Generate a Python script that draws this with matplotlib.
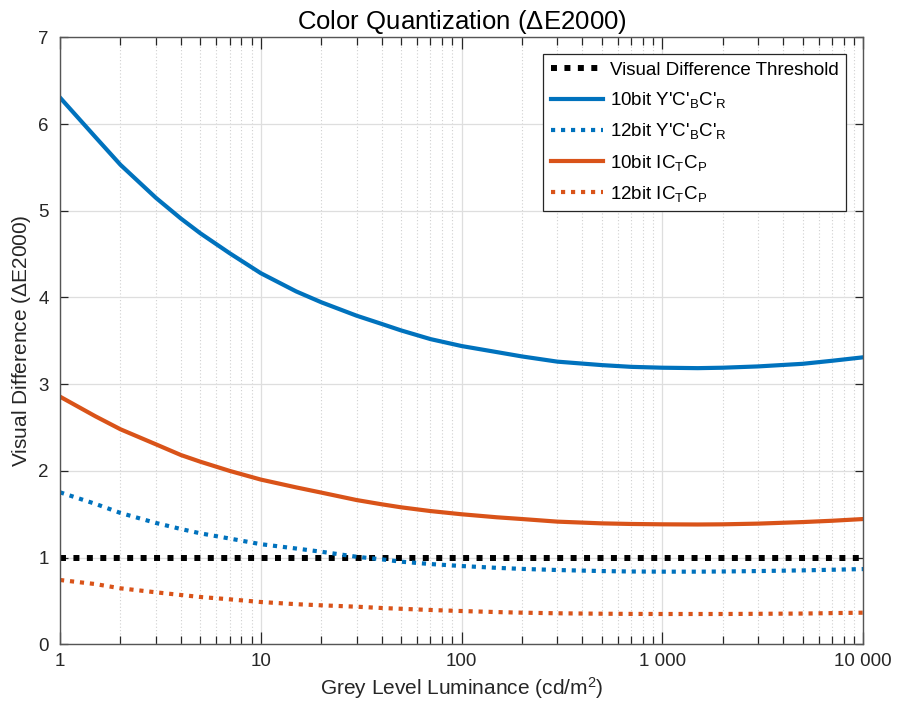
import numpy as np
import matplotlib
matplotlib.use('Agg')
import matplotlib.pyplot as plt
from matplotlib.ticker import LogLocator, NullFormatter

plt.rcParams['font.family'] = ['Liberation Sans', 'DejaVu Sans']
plt.rcParams['mathtext.default'] = 'regular'

#%% data (luminance in cd/m^2, delta E 2000)
luminance = [1, 1.5, 2, 3, 4, 5, 7, 10, 15, 20, 30, 40, 50, 70, 100, 150, 200, 300,
             500, 700, 1000, 1500, 2000, 3000, 5000, 7000, 10000]
threshold = [1.0] * len(luminance)
ycbcr_10bit = [6.305, 5.85, 5.53, 5.15, 4.91, 4.74, 4.51, 4.28, 4.07, 3.945, 3.79, 3.695, 3.62,
               3.52, 3.44, 3.37, 3.32, 3.26, 3.22, 3.20, 3.19, 3.185, 3.19, 3.205, 3.235, 3.27, 3.31]
ycbcr_12bit = [1.753, 1.62, 1.515, 1.40, 1.33, 1.28, 1.22, 1.155, 1.105, 1.068, 1.01, 0.98, 0.953,
               0.926, 0.903, 0.882, 0.87, 0.857, 0.845, 0.84, 0.838, 0.838, 0.84, 0.845, 0.853, 0.86, 0.868]
ictcp_10bit = [2.856, 2.63, 2.48, 2.307, 2.183, 2.106, 2.0, 1.90, 1.81, 1.75, 1.664, 1.615, 1.58,
               1.537, 1.50, 1.465, 1.445, 1.415, 1.395, 1.388, 1.384, 1.382, 1.384, 1.392, 1.41, 1.425, 1.445]
ictcp_12bit = [0.742, 0.695, 0.646, 0.60, 0.569, 0.546, 0.519, 0.488, 0.463, 0.45, 0.434, 0.419, 0.41,
               0.396, 0.384, 0.372, 0.365, 0.358, 0.353, 0.351, 0.35, 0.35, 0.35, 0.352, 0.355, 0.36, 0.365]

xtick_vals = [1, 10, 100, 1000, 10000]
xtick_labels = ['1', '10', '100', '1 000', '10 000']
ytick_vals = [0, 1, 2, 3, 4, 5, 6, 7]

blue = '#0072BD'
orange = '#D95319'
axcol = '#262626'

#%%
fig = plt.figure(figsize=(9, 7.18), dpi=100)
ax = fig.add_axes([0.0667, 0.1026, 0.8923, 0.8454])

ax.plot(luminance, threshold, color='black', lw=4.3, ls=(0, (1, 1.25)),
        label='Visual Difference Threshold')
ax.plot(luminance, ycbcr_10bit, color=blue, lw=3, label="10bit Y'C'$_B$C'$_R$")
ax.plot(luminance, ycbcr_12bit, color=blue, lw=3, ls=(0, (1, 1.4)),
        label="12bit Y'C'$_B$C'$_R$")
ax.plot(luminance, ictcp_10bit, color=orange, lw=3, label='10bit IC$_T$C$_P$')
ax.plot(luminance, ictcp_12bit, color=orange, lw=3, ls=(0, (1, 1.4)),
        label='12bit IC$_T$C$_P$')

ax.set_xscale('log')
ax.set_xlim(1, 10000)
ax.set_ylim(0, 7)
ax.set_xticks(xtick_vals, xtick_labels)
ax.xaxis.set_minor_locator(LogLocator(base=10, subs=np.arange(2, 10)))
ax.xaxis.set_minor_formatter(NullFormatter())
ax.set_yticks(ytick_vals)

ax.grid(True, which='major', axis='both', color='#dedede', lw=0.9, ls='-')
ax.grid(True, which='minor', axis='x', color='#d0d0d0', lw=0.8, ls=(0, (1, 2)))
ax.set_axisbelow(True)

ax.tick_params(which='both', direction='in', top=True, right=True,
               colors=axcol, labelsize=13.5, width=0.9)
ax.tick_params(axis='x', which='major', length=8.5, pad=6)
ax.tick_params(axis='x', which='minor', length=5.8)
ax.tick_params(axis='y', which='major', length=5.8, pad=8)
for s in ax.spines.values():
    s.set_color('#555555')
    s.set_linewidth(1)

ax.set_title('Color Quantization ($\\Delta$E2000)', fontsize=18.5, color='black', pad=6)
ax.set_xlabel('Grey Level Luminance (cd/m$^2$)', fontsize=15, color=axcol)
ax.set_ylabel('Visual Difference ($\\Delta$E2000)', fontsize=15, color=axcol)

leg = ax.legend(loc='upper right', fontsize=13.5, fancybox=False, framealpha=1,
                edgecolor='#262626', handlelength=2.8, borderaxespad=0.9,
                labelspacing=0.6, handletextpad=0.35)
leg.get_frame().set_linewidth(0.9)

fig.savefig('out.png', dpi=100)
